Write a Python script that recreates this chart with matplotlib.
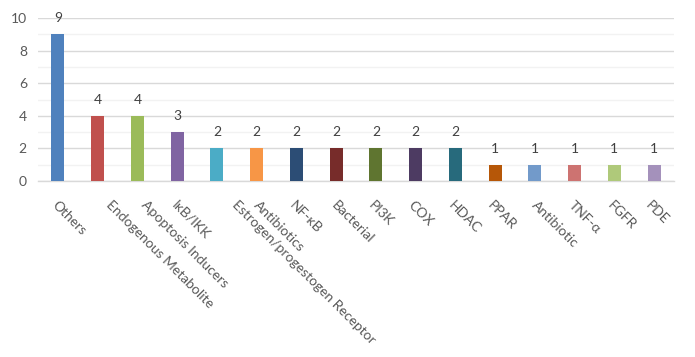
import matplotlib
matplotlib.use("Agg")
import matplotlib.pyplot as plt
from matplotlib.ticker import MultipleLocator
from matplotlib.textpath import TextPath
from matplotlib.font_manager import FontProperties

categories = ["Others", "Endogenous Metabolite", "Apoptosis Inducers", "IκB/IKK",
              "Estrogen/progestogen Receptor", "Antibiotics", "NF-κB", "Bacterial",
              "PI3K", "COX", "HDAC", "PPAR", "Antibiotic", "TNF-α", "FGFR", "PDE"]
values = [9, 4, 4, 3, 2, 2, 2, 2, 2, 2, 2, 1, 1, 1, 1, 1]
colors = ["#4F81BD", "#C0504D", "#9BBB59", "#8064A2", "#4BACC6", "#F79646",
          "#2C4D75", "#772C2A", "#5F7530", "#4D3B62", "#276A7C", "#B65708",
          "#729ACA", "#CD7371", "#AFC97A", "#A491BB"]

plt.rcParams['font.family'] = ['Lato', 'DejaVu Sans']
txt = "#595959"
DPI = 100

fig = plt.figure(figsize=(6.95, 3.57), dpi=DPI)
ax = fig.add_axes([38/695, 1-181/357, 636/695, 163/357])
x = list(range(len(categories)))
ax.bar(x, values, width=0.33, color=colors, zorder=3)
ax.set_xlim(-0.5, len(categories)-0.5)
ax.set_ylim(0, 10)
ax.yaxis.set_major_locator(MultipleLocator(2))
ax.yaxis.set_minor_locator(MultipleLocator(1))
ax.grid(axis='y', which='major', color="#D9D9D9", linewidth=1.0, zorder=0)
ax.grid(axis='y', which='minor', color="#F2F2F2", linewidth=1.0, zorder=0)
for s in ['left', 'right', 'top']:
    ax.spines[s].set_visible(False)
ax.spines['bottom'].set_color("#D9D9D9")
ax.spines['bottom'].set_linewidth(1.0)
ax.tick_params(axis='both', which='both', length=0, colors=txt, labelsize=10)
ax.tick_params(axis='y', pad=8)
ax.set_xticks(x)
ax.set_xticklabels([])

fig.canvas.draw()
renderer = fig.canvas.get_renderer()
pt = 72.0 / DPI
for xi, lab in zip(x, categories):
    t = ax.text(0, 0, lab, fontsize=10)
    w = t.get_window_extent(renderer).width
    t.remove()
    dx_px = -9.8 + 0.1375 * w
    ax.annotate(lab, xy=(xi, 0), xycoords='data', xytext=(dx_px * pt, -22 * pt),
                textcoords='offset points', rotation=-45, rotation_mode='anchor',
                ha='left', va='center', fontsize=10, color=txt, annotation_clip=False)
for xi, v in zip(x, values):
    ax.annotate(str(v), xy=(xi, v), xytext=(0, 7.2), textcoords='offset points',
                ha='center', va='bottom', fontsize=10, color="#404040", annotation_clip=False)
fig.savefig("out.png", dpi=DPI)
